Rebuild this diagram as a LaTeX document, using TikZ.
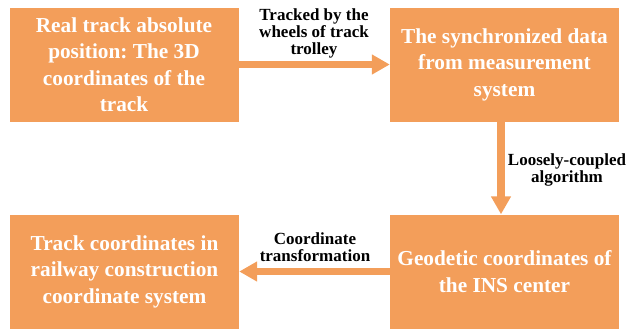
\documentclass[tikz,border=0pt]{standalone}
\usepackage{fontspec}
\setmainfont{Liberation Serif}
\usetikzlibrary{arrows.meta}
\frenchspacing
\definecolor{boxorange}{RGB}{243,158,90}
\tikzset{
  stepbox/.style={fill=boxorange, draw=none, minimum width=229pt, minimum height=114pt,
    inner sep=0pt, align=center, text=white, font=\bfseries\fontsize{21.3}{26.5}\selectfont},
  flowlabel/.style={inner sep=0pt, align=center, text=black, font=\bfseries\fontsize{17}{17}\selectfont},
  flowarrow/.style={draw=boxorange, line width=7.5pt, -{Triangle[length=18pt,width=19pt]}}
}
\begin{document}
\begin{tikzpicture}[x=1pt,y=-1pt]
\useasboundingbox (0,0) rectangle (628,330);
\node[stepbox] (real) at (124,64.5) {Real track absolute\\position: The 3D\\coordinates of the\\track};
\node[stepbox] (sync) at (504.5,64.5) {The synchronized data\\from measurement\\system};
\node[stepbox] (geo) at (504.5,271.5) {Geodetic coordinates of\\the INS center};
\node[stepbox] (rail) at (124.5,271.5) {Track coordinates in\\railway construction\\coordinate system};
\draw[flowarrow] (real.east) -- (sync.west);
\draw[flowarrow] ([xshift=-3.5pt]sync.south) -- ([xshift=-3.5pt]geo.north);
\draw[flowarrow] (geo.west) -- (rail.east);
\node[flowlabel] (l1) at (314,33) {Tracked by the\\wheels of track\\trolley};
\node[flowlabel] (l2) at (567,169.5) {Loosely-coupled\\algorithm};
\node[flowlabel] (l3) at (315,247.5) {Coordinate\\transformation};
\end{tikzpicture}
\end{document}
